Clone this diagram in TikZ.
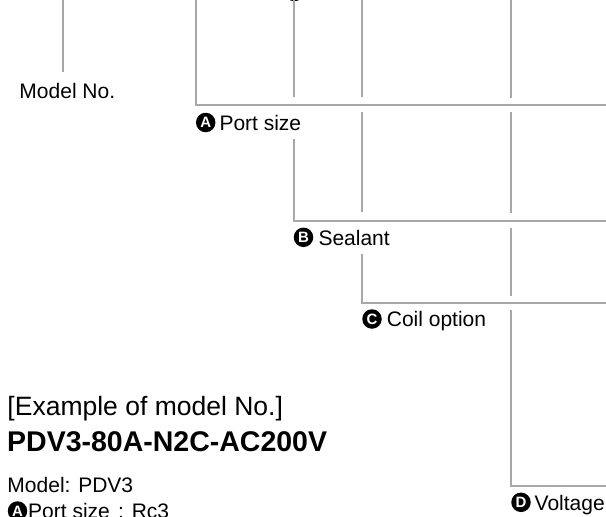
\documentclass[tikz,border=0pt]{standalone}
\usepackage{fontspec}
\setmainfont{Liberation Sans}
\definecolor{linegray}{RGB}{168,168,168}
\begin{document}
\begin{tikzpicture}[x=1pt,y=-1pt,
  conn/.style={draw=linegray, line width=2pt},
  lbl/.style={anchor=base west, inner sep=0pt, font=\fontsize{21}{25}\selectfont},
  badge/.style={circle, fill=black, text=white, inner sep=0pt, minimum size=19.5pt,
    font=\fontsize{15}{15}\selectfont\bfseries}]
\useasboundingbox (0,0) rectangle (606,517);
\clip (0,0) rectangle (606,517);

% partial marker at the top edge
\node[badge] (topmark) at (294.3,-8.5) {};

% coordinates
\coordinate (m0) at (63.3,0);   \coordinate (m1) at (63.3,72);
\coordinate (a0) at (196,0);    \coordinate (a1) at (196,105);   \coordinate (a2) at (606,105);
\coordinate (b0) at (294.3,0);  \coordinate (b1) at (294.3,97.3);
\coordinate (b2) at (294.3,139.3); \coordinate (b3) at (294.3,220.7); \coordinate (b4) at (606,220.7);
\coordinate (c0) at (362.3,0);  \coordinate (c1) at (362.3,97.3);
\coordinate (c2) at (362.3,112.3); \coordinate (c3) at (362.3,212.3);
\coordinate (c4) at (362.3,254); \coordinate (c5) at (362.3,303.3); \coordinate (c6) at (606,303.3);
\coordinate (d0) at (511,0);    \coordinate (d1) at (511,97.7);
\coordinate (d2) at (511,112.3); \coordinate (d3) at (511,213.3);
\coordinate (d4) at (511,228.3); \coordinate (d5) at (511,295.7);
\coordinate (d6) at (511,310);  \coordinate (d7) at (511,486);   \coordinate (d8) at (606,486);

\draw[conn] (m0) -- (m1);
\draw[conn] (a0) -- (a1) -- (a2);
\draw[conn] (b0) -- (b1);
\draw[conn] (b2) -- (b3) -- (b4);
\draw[conn] (c0) -- (c1);
\draw[conn] (c2) -- (c3);
\draw[conn] (c4) -- (c5) -- (c6);
\draw[conn] (d0) -- (d1);
\draw[conn] (d2) -- (d3);
\draw[conn] (d4) -- (d5);
\draw[conn] (d6) -- (d7) -- (d8);

% labels
\node[lbl] (model) at (19.3,98) {Model No.};
\node[badge] (ba) at (205.7,122.5) {A};
\node[lbl] (port) at (219.3,130) {Port size};
\node[badge] (bb) at (303.5,237.3) {B};
\node[lbl] (seal) at (318.3,245) {Sealant};
\node[badge] (bc) at (372,319) {C};
\node[lbl] (coil) at (386.7,326.7) {Coil option};
\node[badge] (bd) at (521,502.3) {D};
\node[lbl] (volt) at (534.5,510) {Voltage};

% example
\node[lbl, font=\fontsize{26.5}{30}\selectfont] (ex) at (7.3,415) {[Example of model No.]};
\node[lbl, font=\fontsize{28.5}{32}\selectfont\bfseries] (code) at (7,451) {PDV3-80A-N2C-AC200V};
\node[lbl] (exmodel) at (7.3,492) {Model: PDV3};
\node[badge] (exa) at (17.5,511) {A};
\node[lbl] (export) at (28,518) {Port size};
\node[lbl] (exrc) at (118,518) {: Rc3};
\end{tikzpicture}
\end{document}
